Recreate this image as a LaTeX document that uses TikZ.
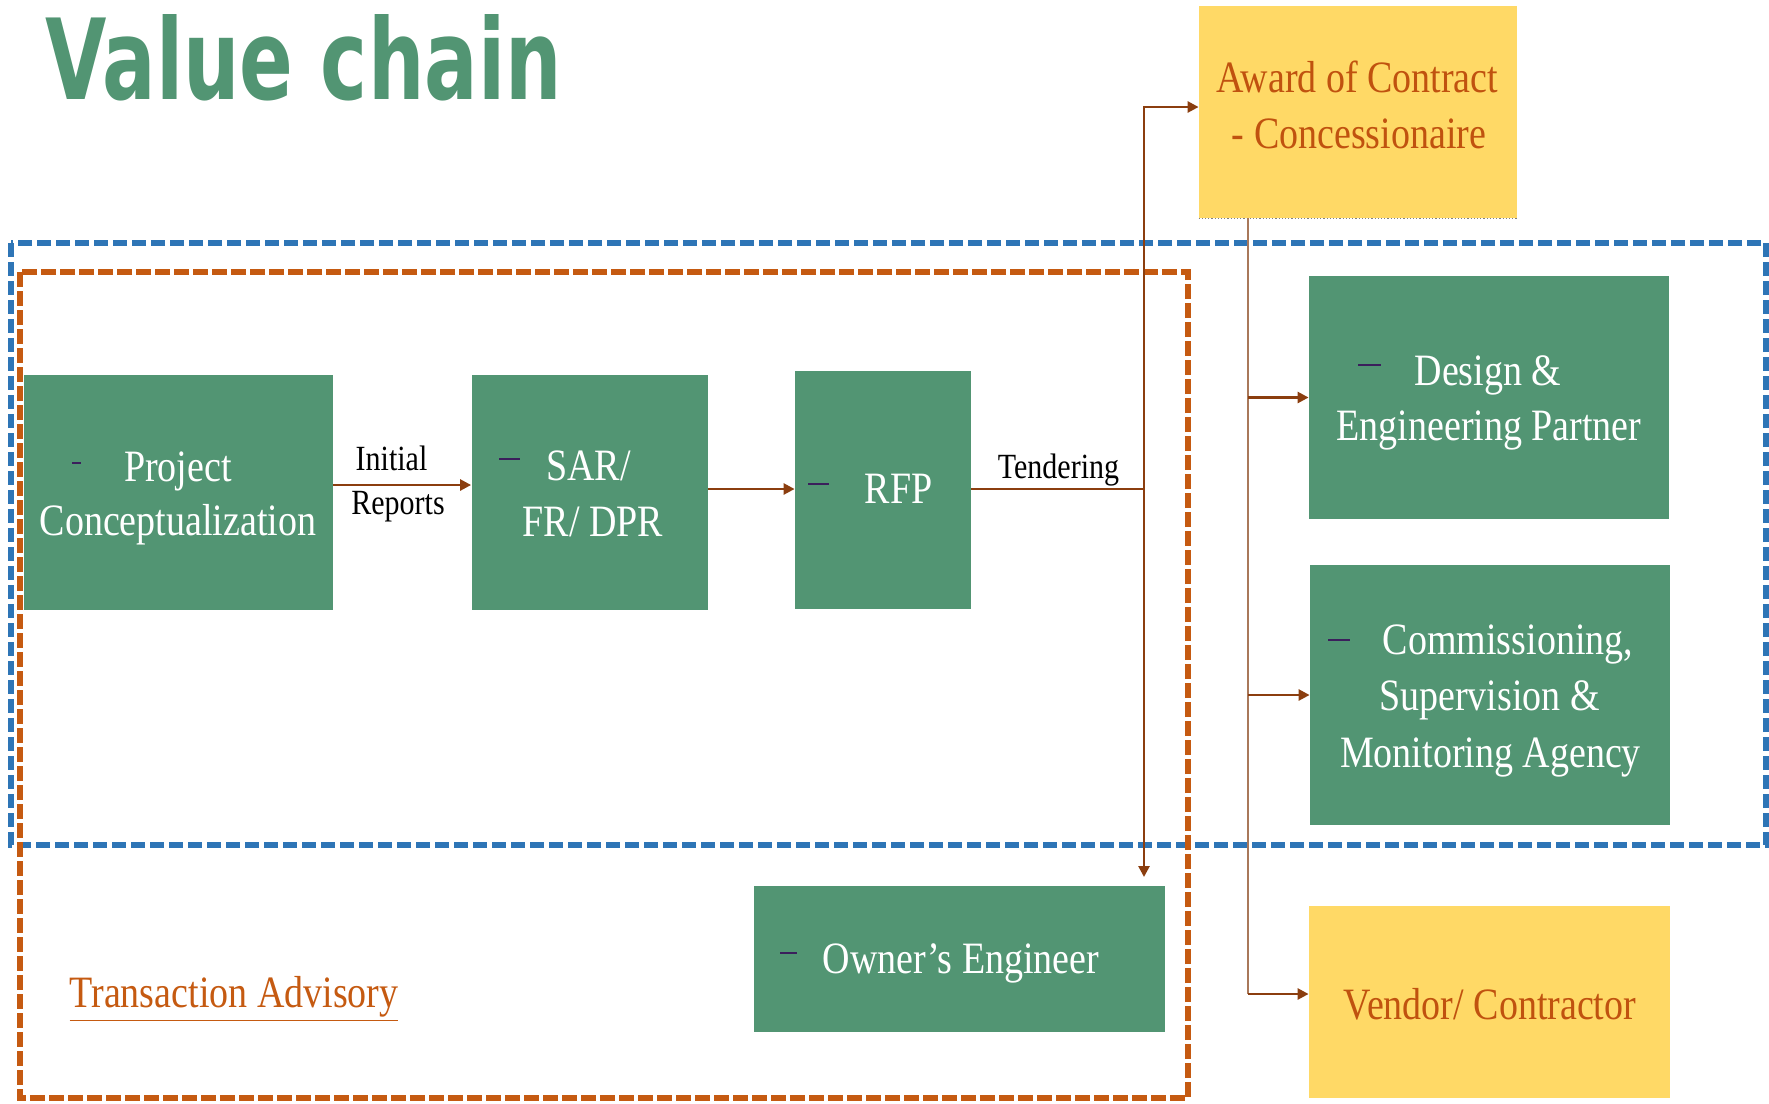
\documentclass[tikz,border=0pt]{standalone}
\usepackage{graphicx}
\usepackage{fontspec}
\setmainfont{Liberation Serif}
\newfontfamily\titlefont{DejaVu Sans}
\usetikzlibrary{arrows.meta,fit}
\definecolor{vgreen}{HTML}{529573}
\definecolor{vyellow}{HTML}{FFD966}
\definecolor{vorange}{HTML}{C0520F}
\definecolor{vtorange}{HTML}{C55A11}
\definecolor{vbrown}{HTML}{8B3E0F}
\definecolor{vbrownlight}{HTML}{A9785A}
\definecolor{vblue}{HTML}{2E75B6}
\definecolor{vodash}{HTML}{C55A11}
\definecolor{vpurple}{HTML}{3B1F5C}
\newcommand\vt[1]{\scalebox{1}[1.18]{#1}}
\tikzset{
  gbox/.style={fill=vgreen, inner sep=0pt},
  ybox/.style={fill=vyellow, inner sep=0pt},
  gtxt/.style={anchor=base, inner sep=0pt, text=white, font=\fontsize{19}{24}\selectfont},
  ytxt/.style={anchor=base, inner sep=0pt, text=vorange, font=\fontsize{19}{24}\selectfont},
  lbl/.style={anchor=base, font=\fontsize{15}{20}\selectfont, text=black, inner sep=0pt},
  arr/.style={draw=vbrown, line width=1.3pt, -{Triangle[length=5.5pt,width=5.5pt]}},
  bline/.style={draw=vbrown, line width=1.3pt},
  rline/.style={draw=vbrownlight, line width=1pt},
  bdash/.style={draw=vblue, line width=3pt, dash pattern=on 7pt off 2.5pt},
  odash/.style={draw=vodash, line width=3pt, dash pattern=on 7.5pt off 2pt},
  tick/.style={draw=vpurple, line width=0.8pt},
}
\begin{document}
\begin{tikzpicture}[x=0.5pt, y=-0.5pt]
\useasboundingbox (0,0) rectangle (1769,1104);
% dashed frames
\draw[bdash] (11,243) rectangle (1766,845);
\draw[odash] (20,272) rectangle (1188,1098);
% title
\node[anchor=base west, inner sep=0pt, text=vgreen] (title) at (45,99) {\resizebox{258pt}{42.5pt}{\titlefont\bfseries Value chain}};
% boxes
\node[gbox, fit={(24,374.5)(333,610)}] (pc) {};
\node[gbox, fit={(471.5,374.5)(707.5,610)}] (sar) {};
\node[gbox, fit={(795,371)(971,609)}] (rfp) {};
\node[gbox, fit={(1309,276)(1669,519)}] (des) {};
\node[gbox, fit={(1310,565)(1670,825)}] (com) {};
\node[gbox, fit={(754,886)(1165,1032)}] (oe) {};
\node[ybox, fit={(1199,6)(1517,218)}] (aw) {};
\node[ybox, fit={(1309,906)(1670,1098)}] (ven) {};
\draw[densely dotted, gray, line width=0.6pt] (aw.south west) -- (aw.south east);
% box texts
\node[gtxt] (pc1) at (178,481) {\vt{Project}};
\node[gtxt] (pc2) at (178,535) {\vt{Conceptualization}};
\node[gtxt] (sar1) at (588.5,480) {\vt{SAR/}};
\node[gtxt] (sar2) at (593,536) {\vt{FR/ DPR}};
\node[gtxt] (rfp1) at (898.5,503) {\vt{RFP}};
\node[gtxt] (des1) at (1488,385) {\vt{Design \&}};
\node[gtxt] (des2) at (1489,440) {\vt{Engineering Partner}};
\node[gtxt] (com1) at (1508,654) {\vt{Commissioning,}};
\node[gtxt] (com2) at (1489.5,710) {\vt{Supervision \&}};
\node[gtxt] (com3) at (1490.5,767) {\vt{Monitoring Agency}};
\node[gtxt] (oe1) at (961,973) {\vt{Owner’s Engineer}};
\node[ytxt] (aw1) at (1357.5,92) {\vt{Award of Contract}};
\node[ytxt] (aw2) at (1359,148) {\vt{- Concessionaire}};
\node[ytxt] (ven1) at (1490,1019) {\vt{Vendor/ Contractor}};
% ticks
\draw[tick] (72,463) -- (81,463);
\draw[tick] (499,459) -- (520,459);
\draw[tick] (808,484) -- (829,484);
\draw[tick] (1358,365) -- (1381,365);
\draw[tick] (1328,640) -- (1350,640);
\draw[tick, line width=1.2pt] (780,953) -- (797,953);
% labels
\node[lbl] (ini) at (391.5,470) {\vt{Initial}};
\node[lbl] (rep) at (398,514) {\vt{Reports}};
\node[lbl] (ten) at (1058.5,478) {\vt{Tendering}};
\node[anchor=base, inner sep=0pt, text=vtorange, font=\fontsize{19}{24}\selectfont] (ta) at (234,1007) {\vt{\underline{Transaction Advisory}}};
% connectors
\coordinate (r1) at (0,485);
\coordinate (r2) at (0,489);
\draw[arr] (pc.east |- r1) -- (sar.west |- r1);
\draw[arr] (sar.east |- r2) -- (rfp.west |- r2);
\coordinate (tj) at (1144,489);
\coordinate (at) at (1144,107);
\coordinate (ob) at (1144,877);
\draw[bline] (rfp.east |- tj) -- (tj);
\draw[arr] (tj) -- (at) -- (aw.west |- at);
\draw[arr] (tj) -- (ob);
\coordinate (bx) at (1248,994);
\draw[rline] (bx |- aw.south) -- (bx);
\draw[arr] (bx |- des.west) -- (des.west);
\draw[arr] (bx |- com.west) -- (com.west);
\draw[arr] (bx) -- (bx -| ven.west);
\end{tikzpicture}
\end{document}
